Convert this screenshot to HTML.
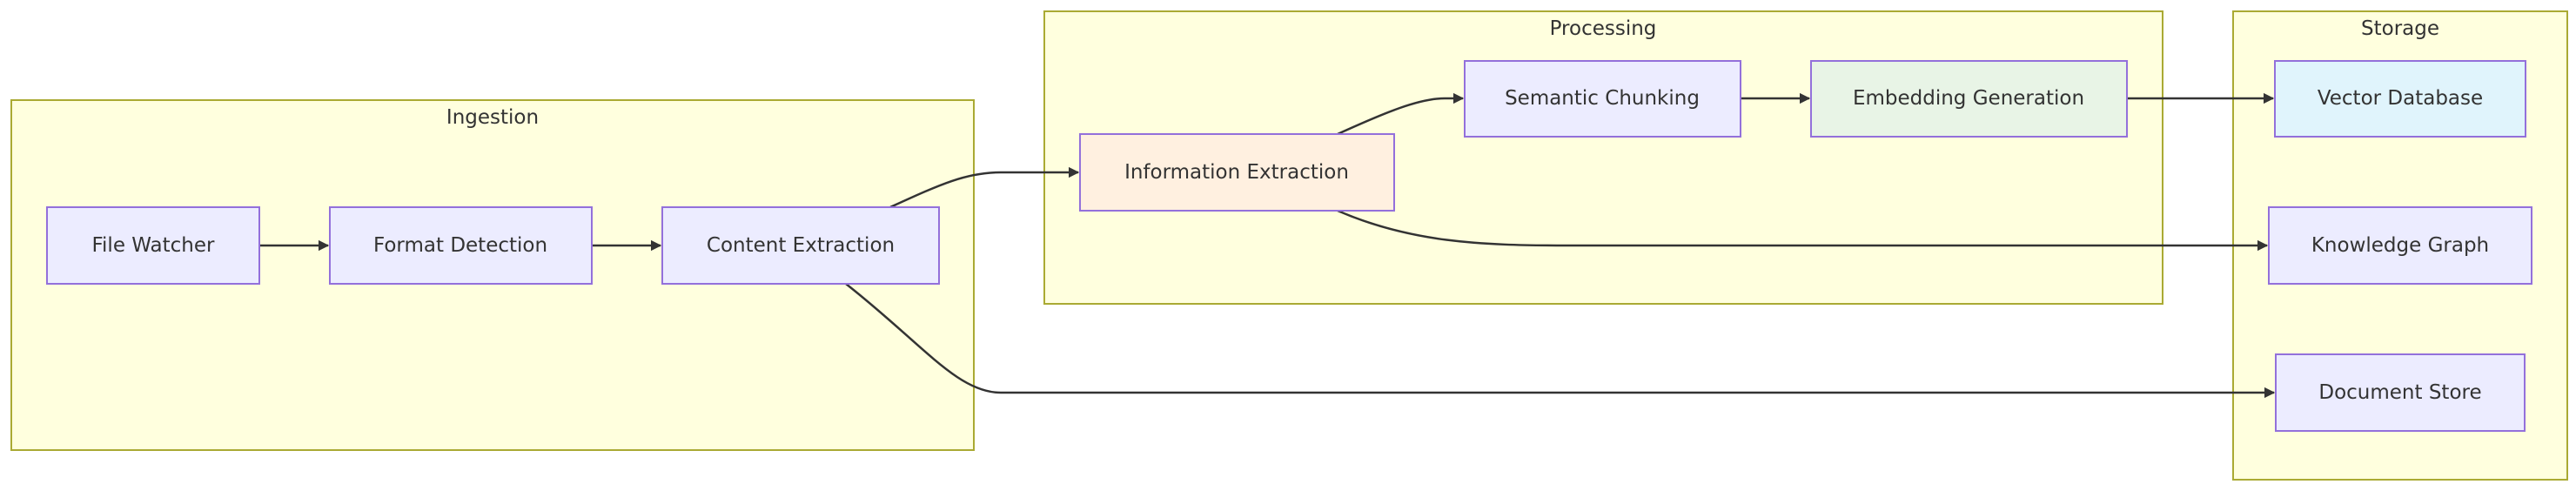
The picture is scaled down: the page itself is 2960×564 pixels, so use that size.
<!DOCTYPE html>
<html><head><meta charset="utf-8"><style>
html,body{margin:0;padding:0;background:#fff;}
svg{display:block}
text{font-family:"DejaVu Sans","Liberation Sans",sans-serif;fill:#333;font-size:23px;text-anchor:middle;dominant-baseline:central}
.c{fill:#ffffde;stroke:#aaaa33;stroke-width:2}
.n{stroke:#9370DB;stroke-width:2}
.e{fill:none;stroke:#333;stroke-width:2.5}
</style></head><body>
<svg width="2960" height="564" viewBox="0 0 2960 564" xmlns="http://www.w3.org/2000/svg">
<defs><marker id="a" viewBox="0 0 10 10" refX="9" refY="5" markerWidth="5" markerHeight="5" markerUnits="strokeWidth" orient="auto"><path d="M0,0L10,5L0,10z" fill="#333"/></marker></defs>
<rect class="c" x="13" y="115" width="1106" height="402"/>
<rect class="c" x="1200" y="13" width="1285" height="336"/>
<rect class="c" x="2566" y="13" width="384" height="538"/>
<text x="566" y="135">Ingestion</text>
<text x="1842" y="33">Processing</text>
<text x="2758" y="33">Storage</text>

<path class="e" d="M298,282H377" marker-end="url(#a)"/>
<path class="e" d="M680,282H759" marker-end="url(#a)"/>
<path class="e" d="M1023,238C1080,212 1110,198 1150,198H1239" marker-end="url(#a)"/>
<path class="e" d="M972,326C1060,395 1100,451 1150,451H2613" marker-end="url(#a)"/>
<path class="e" d="M1537,154C1590,130 1630,113 1660,113H1681" marker-end="url(#a)"/>
<path class="e" d="M1537,242C1620,278 1700,282 1800,282H2605" marker-end="url(#a)"/>
<path class="e" d="M2000,113H2079" marker-end="url(#a)"/>
<path class="e" d="M2444,113H2612" marker-end="url(#a)"/>

<rect class="n" fill="#ECECFF" x="54" y="238" width="244" height="88"/>
<text x="176" y="282">File Watcher</text>
<rect class="n" fill="#ECECFF" x="379" y="238" width="301" height="88"/>
<text x="529" y="282">Format Detection</text>
<rect class="n" fill="#ECECFF" x="761" y="238" width="318" height="88"/>
<text x="920" y="282">Content Extraction</text>
<rect class="n" fill="#fff0e0" x="1241" y="154" width="361" height="88"/>
<text x="1421" y="198">Information Extraction</text>
<rect class="n" fill="#ECECFF" x="1683" y="70" width="317" height="87"/>
<text x="1841" y="113">Semantic Chunking</text>
<rect class="n" fill="#e8f4e6" x="2081" y="70" width="363" height="87"/>
<text x="2262" y="113">Embedding Generation</text>
<rect class="n" fill="#e0f4fc" x="2614" y="70" width="288" height="87"/>
<text x="2758" y="113">Vector Database</text>
<rect class="n" fill="#ECECFF" x="2607" y="238" width="302" height="88"/>
<text x="2758" y="282">Knowledge Graph</text>
<rect class="n" fill="#ECECFF" x="2615" y="407" width="286" height="88"/>
<text x="2758" y="451">Document Store</text>
</svg>
</body></html>
